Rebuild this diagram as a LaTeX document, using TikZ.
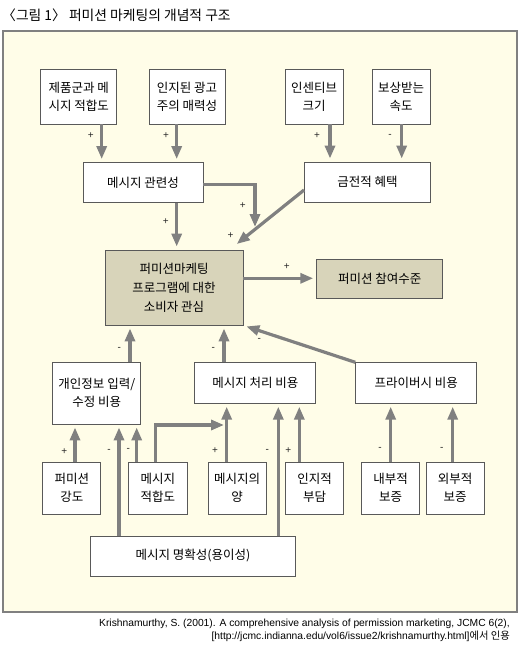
\documentclass[tikz,border=0pt]{standalone}
\usepackage{fontspec}
\setmainfont{Liberation Sans}
\newfontfamily\kr{Noto Sans CJK KR}
\usetikzlibrary{arrows.meta}

\definecolor{bgyellow}{RGB}{255,253,232}
\definecolor{boxtan}{RGB}{216,212,186}
\definecolor{arrgray}{RGB}{128,128,128}

\tikzset{
  box/.style={draw=black!65, line width=0.9pt, fill=white, inner sep=0pt,
    align=center, font=\kr\fontsize{12.5}{18}\selectfont},
  tanbox/.style={box, fill=boxtan},
  arr/.style={draw=arrgray, line width=3.2pt,
    -{Triangle[length=13pt,width=10pt]}, shorten >=3pt},
  sgn/.style={inner sep=0pt, font=\fontsize{10}{10}\selectfont, text=black!85}
}

\begin{document}
\begin{tikzpicture}[x=1pt,y=-1pt]
        \useasboundingbox (0,0) rectangle (520,655);

        % Frame and title
        \draw[draw=gray, line width=2pt, fill=bgyellow] (3,31) rectangle (516.5,612);
        \node[anchor=west, inner sep=0pt, font=\kr\fontsize{13.8}{15}\selectfont] (title) at (2,15) {〈그림 1〉 퍼미션 마케팅의 개념적 구조};

        % Top row
        \node[box, minimum width=76, minimum height=55] (fitA) at (78.7,96.5) {제품군과 메\\시지 적합도};
        \node[box, minimum width=76, minimum height=55] (attr) at (187,96.5) {인지된 광고\\주의 매력성};
        \node[box, minimum width=58, minimum height=55] (incent) at (314,96.5) {인센티브\\크기};
        \node[box, minimum width=58, minimum height=55] (speed) at (401,96.5) {보상받는\\속도};

        % Relevance and monetary benefit
        \node[box, minimum width=120, minimum height=40] (relev) at (143,182.5) {메시지 관련성};
        \node[box, minimum width=126, minimum height=40] (money) at (367.5,182) {금전적 혜택};

        % Interest and participation
        \node[tanbox, minimum width=138, minimum height=75, font=\kr\fontsize{12.5}{19}\selectfont] (interest) at (174,287.5) {퍼미션마케팅\\프로그램에 대한\\소비자 관심};
        \node[tanbox, minimum width=126, minimum height=39] (partic) at (379.7,278.8) {퍼미션 참여수준};

        % Costs
        \node[box, minimum width=88, minimum height=62] (privin) at (96.8,393) {개인정보 입력/\\수정 비용};
        \node[box, minimum width=121, minimum height=40.5] (proc) at (255.3,383) {메시지 처리 비용};
        \node[box, minimum width=121, minimum height=40.5] (privacy) at (416.2,383) {프라이버시 비용};

        % Bottom row
        \node[box, minimum width=58, minimum height=52] (intens) at (71.8,488) {퍼미션\\강도};
        \node[box, minimum width=59, minimum height=52] (mfit) at (157.8,488) {메시지\\적합도};
        \node[box, minimum width=58, minimum height=52] (amount) at (237.2,488) {메시지의\\양};
        \node[box, minimum width=58, minimum height=52] (cogn) at (314.5,488) {인지적\\부담};
        \node[box, minimum width=58, minimum height=52] (inner) at (390.5,488) {내부적\\보증};
        \node[box, minimum width=58, minimum height=52] (outer) at (455.2,488) {외부적\\보증};
        \node[box, minimum width=205, minimum height=40] (clarity) at (193,556) {메시지 명확성(용이성)};

        % Arrows into relevance and benefit
        \draw[arr] (fitA.south -| 101.7,0) -- (relev.north -| 101.7,0);
        \draw[arr] (attr.south -| 176.7,0) -- (relev.north -| 176.7,0);
        \draw[arr] (incent.south -| 330,0) -- (money.north -| 330,0);
        \draw[arr] (speed.south -| 401.7,0) -- (money.north -| 401.7,0);

        % Arrows into interest
        \coordinate (relevEnd) at (255,230);
        \coordinate (moneyEnd) at (234.4,245.9);
        \draw[arr] (relev.south -| 176.7,0) -- (interest.north -| 176.7,0);
        \draw[arr] (relev.east |- 0,184.3) -| (relevEnd);
        \draw[arr] (money.west |- 0,190) -- (moneyEnd);
        \draw[arr] (privin.north -| 130,0) -- (interest.south -| 130,0);
        \draw[arr] (proc.north -| 224,0) -- (interest.south -| 224,0);
        \draw[arr] (privacy.north west) -- (interest.south east);
        \draw[arr] (interest.east |- 0,278.3) -- (partic.west |- 0,278.3);

        % Arrows into costs
        \coordinate (mfitEnd) at (227,425);
        \draw[arr] (intens.north -| 75,0) -- (privin.south -| 75,0);
        \draw[arr] (clarity.north -| 119,0) -- (privin.south -| 119,0);
        \draw[arr] (mfit.north -| 136.7,0) -- (privin.south -| 136.7,0);
        \draw[arr] (mfit.north -| 155.7,0) |- (mfitEnd);
        \draw[arr] (amount.north -| 226.7,0) -- (proc.south -| 226.7,0);
        \draw[arr] (clarity.north -| 278.3,0) -- (proc.south -| 278.3,0);
        \draw[arr] (cogn.north -| 299.3,0) -- (proc.south -| 299.3,0);
        \draw[arr] (inner.north -| 390.7,0) -- (privacy.south -| 390.7,0);
        \draw[arr] (outer.north -| 452.7,0) -- (privacy.south -| 452.7,0);

        % Signs
        \node[sgn] (s1) at (90.7,136) {+};
        \node[sgn] (s2) at (166,136) {+};
        \node[sgn] (s3) at (317,136) {+};
        \node[sgn] (s4) at (390,136) {-};
        \node[sgn] (s5) at (165.7,221.7) {+};
        \node[sgn] (s6) at (242.7,205.5) {+};
        \node[sgn] (s7) at (230.5,236) {+};
        \node[sgn] (s8) at (286.7,267) {+};
        \node[sgn] (s9) at (119.3,349) {-};
        \node[sgn] (s10) at (213.3,349) {-};
        \node[sgn] (s11) at (259.2,339.5) {-};
        \node[sgn] (s12) at (64.3,451.7) {+};
        \node[sgn] (s13) at (109,451) {-};
        \node[sgn] (s14) at (128.3,450) {-};
        \node[sgn] (s15) at (215,451) {+};
        \node[sgn] (s16) at (267.3,451) {-};
        \node[sgn] (s17) at (288.3,451) {+};
        \node[sgn] (s18) at (380,449) {-};
        \node[sgn] (s19) at (441.7,449) {-};

        % Source
        \node[anchor=east, inner sep=0pt, align=right, font=\fontsize{10.3}{13}\selectfont] (cite) at (510,630.5) {Krishnamurthy, S. (2001). A comprehensive analysis of permission marketing, JCMC 6(2),\\{}[http://jcmc.indianna.edu/vol6/issue2/krishnamurthy.html]{\kr 에서 인용}};
\end{tikzpicture}
\end{document}
